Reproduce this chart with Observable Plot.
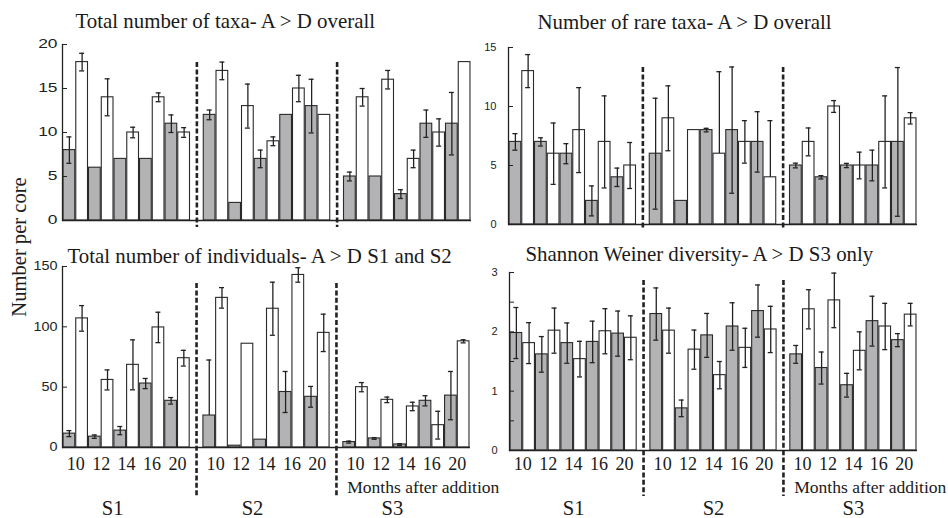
<!DOCTYPE html>
<html><head><meta charset="utf-8">
<script src="https://cdn.jsdelivr.net/npm/d3@7"></script>
<script src="https://cdn.jsdelivr.net/npm/@observablehq/plot@0.6"></script>
<style>
html,body{margin:0;padding:0;background:#fff;}
#root{position:relative;width:948px;height:518px;overflow:hidden;background:#fff;}
.panel{position:absolute;}
.ylab{position:absolute;color:#1e1e1e;white-space:nowrap;line-height:1;transform:translate(-50%,-50%) rotate(-90deg);left:19px;top:247px;}
</style></head><body><div id="root"></div>
<script>
// ---------- data ----------
const sites = ["S1", "S2", "S3"];
const months = [10, 12, 14, 16, 20];
const treatments = ["D", "A"];
const yAxisLabel = "Number per core";
const monthsCaption = "Months after addition";

// Total number of taxa (order: S1 months, S2 months, S3 months)
const taxaD    = [8, 6, 7, 7, 11,   12, 2, 7, 12, 13,   5, 5, 3, 11, 11];
const taxaDErr = [1.5, 0, 0, 0, 1,  0.55, 0, 1, 0, 3.05, 0.5, 0, 0.5, 1.55, 3.55];
const taxaA    = [18, 14, 10, 14, 10,  17, 13, 9, 15, 12,  14, 16, 7, 10, 18];
const taxaAErr = [1, 2.1, 0.6, 0.5, 0.55, 1, 2.5, 0.5, 1.5, 0, 1, 1.05, 1, 1.55, 0];
const taxaTicks = [0, 5, 10, 15, 20];

// Number of rare taxa
const rareD    = [7, 7, 6, 2, 4,   6, 2, 8, 8, 7,   5, 4, 5, 5, 7];
const rareDErr = [0.7, 0.35, 0.85, 1.27, 0.78,  4.7, 0, 0.15, 5.35, 2.56,  0.2, 0.14, 0.18, 1.3, 6.3];
const rareA    = [13, 6, 8, 7, 5,   9, 8, 6, 7, 4,   7, 10, 5, 7, 9];
const rareAErr = [1.4, 2.6, 3.6, 3.9, 1.95,  2.75, 0, 6.95, 1.8, 4.8,  1.18, 0.5, 1.13, 3.9, 0.48];
const rareTicks = [0, 5, 10, 15];

// Total number of individuals
const indivD    = [11.5, 9, 14, 53, 38.7,   26.5, 1.5, 6.5, 46, 42,   4.5, 7.5, 2.5, 38.7, 43];
const indivDErr = [2.5, 1.4, 3.4, 4.2, 2.7,  46, 0, 0, 17, 8.6,  0.8, 0.7, 0.7, 4.2, 20];
const indivA    = [107, 56, 68.5, 99.5, 74,   124, 86, 115, 143, 95,   50, 39.5, 34, 18.5, 88];
const indivAErr = [10.6, 8.3, 20.7, 12.6, 6.5,  8.5, 0, 22, 6, 15.5,  3.8, 2.3, 3.5, 11.5, 1.3];
const indivTicks = [0, 50, 100, 150];

// Shannon Weiner diversity
const shanD    = [1.98, 1.62, 1.81, 1.83, 1.97,   2.3, 0.71, 1.94, 2.09, 2.35,   1.62, 1.39, 1.1, 2.18, 1.86];
const shanDErr = [0.43, 0.3, 0.34, 0.35, 0.38,  0.44, 0.14, 0.37, 0.4, 0.44,  0.15, 0.27, 0.2, 0.42, 0.11];
const shanA    = [1.81, 2.02, 1.54, 2.01, 1.9,   2.02, 1.7, 1.27, 1.73, 2.04,   2.38, 2.53, 1.68, 2.09, 2.29];
const shanAErr = [0.345, 0.38, 0.3, 0.38, 0.37,  0.38, 0.33, 0.23, 0.33, 0.39,  0.33, 0.46, 0.32, 0.39, 0.19];
const shanTicks = [0, 0.5, 1, 1.5, 2, 2.5, 3];

const titles = {
  taxa: "Total number of taxa- A > D overall",
  rare: "Number of rare taxa- A > D overall",
  indiv: "Total number of individuals- A > D S1 and S2",
  shan: "Shannon Weiner diversity- A > D S3 only"
};

// ---------- fonts: pick an installed serif face ----------
const ctx = document.createElement("canvas").getContext("2d");
function textWidth(font, s) { ctx.font = font; return ctx.measureText(s).width; }
function available(name) {
  const s = "Total number of individuals 0123456789 WMiil";
  return ["monospace", "sans-serif"].some(g =>
    Math.abs(textWidth(`20px "${name}", ${g}`, s) - textWidth(`20px ${g}`, s)) > 0.5);
}
const serifCandidates = ["Liberation Serif", "Tinos", "Times New Roman", "DejaVu Serif", "Noto Serif", "FreeSerif"];
const serifName = serifCandidates.find(available);
const serif = serifName ? `"${serifName}", serif` : "serif";
const refW = textWidth(`20.8px ${serif}`, titles.taxa);
const fk = Math.min(1.15, Math.max(0.7, 302 / refW));
const fs = v => +(v * fk).toFixed(2);

// ---------- layout / style ----------
const GRAY = "#b3b3b5", INK = "#222";
const panels = [
  {id: "taxa", d: taxaD, de: taxaDErr, a: taxaA, ae: taxaAErr, ticks: taxaTicks, max: 20,
   left: 0, top: 0, w: 474, h: 230, mL: 62, mR: 3, mT: 44, mB: 10,
   tickPad: 10, tickFont: 12, stretch: 1.45, titleDx: 13, titleDy: -17, dashTop: 18, dashBottom: -7, bottom: false},
  {id: "rare", d: rareD, de: rareDErr, a: rareA, ae: rareAErr, ticks: rareTicks, max: 15,
   left: 474, top: 0, w: 474, h: 230, mL: 34, mR: 31, mT: 47, mB: 6,
   tickPad: 17, tickFont: 11, stretch: 1, titleDx: 29, titleDy: -19, dashTop: 20, dashBottom: -5, bottom: false},
  {id: "indiv", d: indivD, de: indivDErr, a: indivA, ae: indivAErr, ticks: indivTicks, max: 150,
   left: 0, top: 230, w: 474, h: 288, mL: 62, mR: 4, mT: 36, mB: 71,
   tickPad: 10, tickFont: 12, stretch: 1.2, titleDx: 5, titleDy: -4, dashTop: 17, dashBottom: -50,
   bottom: true, monthDy: 22, capDy: 45, siteDy: 67, siteDx: -14},
  {id: "shan", d: shanD, de: shanDErr, a: shanA, ae: shanAErr, ticks: shanTicks, max: 3,
   left: 474, top: 230, w: 474, h: 288, mL: 35, mR: 31, mT: 42, mB: 68,
   tickPad: 17, tickFont: 11, stretch: 1, titleDx: 16, titleDy: -12, dashTop: 8, dashBottom: -46,
   bottom: true, monthDy: 19, capDy: 42, siteDy: 64, siteDx: 0, minorTicks: true}
];

// x domain: 10 bars per site, with an empty slot between sites
const keys = [];
sites.forEach((s, si) => {
  months.forEach(m => treatments.forEach(t => keys.push(`${s}|${m}|${t}`)));
  if (si < sites.length - 1) keys.push(`${s}|gap`);
});
const gapKeys = sites.slice(0, -1).map(s => `${s}|gap`);

function buildRows(d, de, a, ae) {
  const rows = [];
  sites.forEach((s, si) => months.forEach((m, mi) => {
    const i = si * months.length + mi;
    rows.push({key: `${s}|${m}|D`, t: "D", mean: d[i], err: de[i]});
    rows.push({key: `${s}|${m}|A`, t: "A", mean: a[i], err: ae[i]});
  }));
  return rows;
}

const root = document.getElementById("root");

panels.forEach(p => {
  const rows = buildRows(p.d, p.de, p.a, p.ae);
  const errs = rows.filter(r => r.err > 0).map(r => {
    const low = r.mean - r.err;
    return {...r, lo: low >= 0 ? low : r.mean, hi: r.mean + r.err, showLo: low >= 0};
  });
  const caps = [];
  errs.forEach(e => {
    caps.push({key: e.key, y: e.hi});
    if (e.showLo) caps.push({key: e.key, y: e.lo});
  });
  const xOpts = {type: "band", domain: keys, padding: 0.08, round: false};
  const band = Plot.scale({x: {...xOpts, range: [p.mL, p.w - p.mR]}});
  const step = band.step, bw = band.bandwidth;
  const capInset = Math.max(0, (bw - 5) / 2);

  const marks = [
    Plot.barY(rows, {x: "key", y: "mean", fill: "t", stroke: "#2a2a2a", strokeWidth: 1.1}),
    Plot.ruleX(errs, {x: "key", y1: "lo", y2: "hi", stroke: INK, strokeWidth: 1.3}),
    Plot.tickY(caps, {x: "key", y: "y", insetLeft: capInset, insetRight: capInset, stroke: INK, strokeWidth: 1.3}),
    Plot.ruleY([0], {stroke: INK, strokeWidth: 1.5}),
    Plot.frame({anchor: "left", stroke: INK, strokeWidth: 1.3}),
    Plot.axisY({ticks: p.ticks, tickSize: -5, tickPadding: p.tickPad, fontSize: p.tickFont,
      fontFamily: "'Liberation Sans', Arial, sans-serif",
      tickFormat: d => (p.minorTicks && !Number.isInteger(d)) ? "" : String(d)}),
    Plot.ruleX(gapKeys, {x: d => d, insetTop: p.dashTop, insetBottom: p.dashBottom,
      stroke: INK, strokeWidth: 2.6, strokeDasharray: "5,2.4"}),
    Plot.text([titles[p.id]], {text: d => d, frameAnchor: "top-left", textAnchor: "start", lineAnchor: "bottom",
      dx: p.titleDx, dy: p.titleDy, fontSize: fs(20.8), fontFamily: serif, fill: "#1a1a1a"})
  ];
  if (p.bottom) {
    const monthRows = [];
    sites.forEach(s => months.forEach(m => monthRows.push({key: `${s}|${m}|D`, label: String(m)})));
    const siteRows = sites.map(s => ({key: `${s}|${months[2]}|D`, label: s}));
    const lastSite = sites[sites.length - 1];
    marks.push(
      Plot.text(monthRows, {x: "key", text: "label", frameAnchor: "bottom", lineAnchor: "bottom",
        dx: step / 2, dy: p.monthDy, fontSize: fs(18), fontFamily: serif, fill: "#1a1a1a"}),
      Plot.text([{key: `${lastSite}|${months[0]}|D`, label: monthsCaption}], {x: "key", text: "label",
        frameAnchor: "bottom", lineAnchor: "bottom", textAnchor: "start",
        dx: -2, dy: p.capDy, fontSize: fs(17.5), fontFamily: serif, fill: "#1a1a1a"}),
      Plot.text(siteRows, {x: "key", text: "label", frameAnchor: "bottom", lineAnchor: "bottom",
        dx: step / 2 + p.siteDx, dy: p.siteDy, fontSize: fs(20.5), fontFamily: serif, fill: "#1a1a1a"})
    );
  }

  const svg = Plot.plot({
    width: p.w, height: p.h,
    marginLeft: p.mL, marginRight: p.mR, marginTop: p.mT, marginBottom: p.mB,
    style: {background: "transparent", overflow: "visible", color: INK, fontFamily: serif},
    x: {...xOpts, axis: null},
    y: {domain: [0, p.max]},
    color: {domain: treatments, range: [GRAY, "#ffffff"]},
    marks
  });
  if (p.stretch !== 1) {
    d3.select(svg).selectAll('[aria-label="y-axis tick label"] text').each(function () {
      const t = this.getAttribute("transform") || "";
      this.setAttribute("transform", t + ` scale(${p.stretch},1)`);
    });
  }
  const holder = document.createElement("div");
  holder.className = "panel";
  holder.style.left = p.left + "px";
  holder.style.top = p.top + "px";
  holder.appendChild(svg);
  root.appendChild(holder);
});

const yl = document.createElement("div");
yl.className = "ylab";
yl.style.fontFamily = serif;
yl.style.fontSize = fs(20.5) + "px";
yl.textContent = yAxisLabel;
root.appendChild(yl);
</script>
</body></html>
